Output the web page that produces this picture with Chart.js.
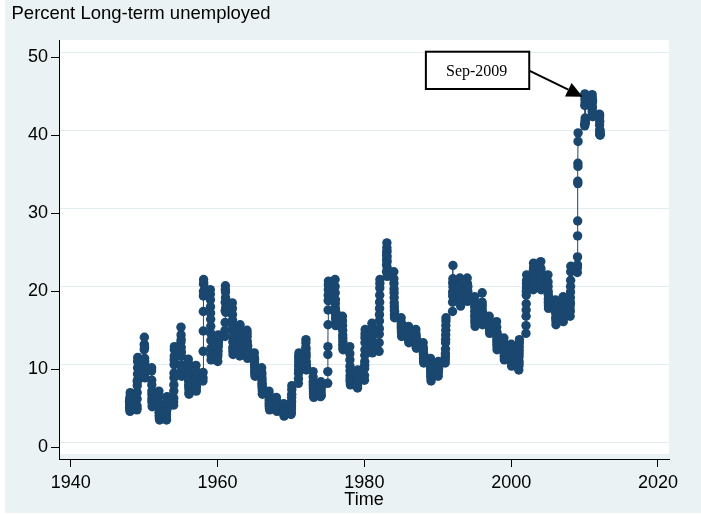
<!DOCTYPE html>
<html><head><meta charset="utf-8">
<script src="https://cdn.jsdelivr.net/npm/chart.js@4"></script>
<style>html,body{margin:0;padding:0;background:#fff}canvas{display:block}</style>
</head><body>
<canvas id="c" width="701" height="514"></canvas>
<script>
// ---------- data (monthly, one row of 12 per year) ----------
const titleText = 'Percent Long-term unemployed';
const xTitle = 'Time';
const xTicks = [1940, 1960, 1980, 2000, 2020];
const yTicks = [0, 10, 20, 30, 40, 50];
const firstYear = 1948;
const v1940s = [ // 1948-1949
  [5.9, 5.1, 5.6, 6.3, 5.5, 4.8, 5.0, 4.6, 5.4, 6.1, 7.0, 6.7],
  [5.0, 4.8, 5.3, 6.2, 7.0, 7.9, 8.4, 8.6, 9.4, 10.2, 11.0, 11.5]
];
const v1950s = [
  [12.5, 13.2, 14.1, 13.0, 12.8, 11.4, 10.5, 11.0, 10.2, 9.5, 8.9, 9.9],
  [9.8, 10.2, 8.6, 8.0, 7.2, 6.8, 6.3, 6.0, 5.8, 5.2, 5.7, 5.4],
  [7.2, 6.5, 5.6, 5.0, 4.5, 4.0, 4.4, 3.8, 4.1, 3.6, 3.5, 4.2],
  [4.0, 4.5, 3.8, 4.2, 3.5, 4.9, 5.4, 5.0, 4.8, 5.6, 6.0, 6.5],
  [5.4, 5.8, 6.3, 7.2, 8.0, 8.9, 9.5, 10.6, 11.2, 11.7, 12.5, 12.9],
  [13.5, 15.4, 14.4, 13.8, 12.8, 11.7, 12.2, 10.6, 9.7, 10.2, 9.1, 9.5],
  [11.3, 10.4, 10.8, 9.6, 9.0, 8.5, 8.0, 8.8, 7.5, 7.0, 7.8, 6.8],
  [7.4, 8.2, 9.0, 8.5, 9.6, 10.5, 9.8, 8.6, 7.6, 8.3, 7.2, 7.8],
  [8.5, 8.9, 9.6, 12.3, 14.9, 17.4, 19.4, 20.0, 20.9, 21.5, 21.1, 19.8],
  [20.2, 19.6, 18.9, 18.0, 17.2, 16.4, 15.5, 14.6, 13.7, 12.7, 11.8, 11.2]
];
const v1960s = [
  [12.4, 11.6, 11.0, 11.9, 12.3, 12.8, 13.2, 13.0, 13.6, 14.0, 14.4, 13.5],
  [14.2, 15.0, 16.0, 17.5, 18.6, 20.2, 20.7, 19.9, 19.2, 18.6, 17.9, 17.3],
  [18.5, 17.8, 17.0, 16.3, 15.6, 14.9, 14.1, 13.5, 12.8, 12.3, 11.9, 12.6],
  [13.0, 12.2, 11.7, 13.6, 14.2, 14.9, 15.7, 15.1, 14.4, 13.8, 13.2, 12.8],
  [15.0, 14.6, 14.2, 13.6, 13.1, 12.6, 12.2, 11.8, 11.4, 12.5, 13.0, 12.3],
  [12.1, 11.5, 11.3, 11.0, 10.6, 10.2, 10.4, 9.8, 9.4, 9.7, 9.1, 9.5],
  [10.2, 9.6, 9.3, 8.9, 8.6, 8.2, 7.8, 8.0, 7.5, 7.2, 6.9, 6.8],
  [7.2, 6.8, 6.1, 5.6, 5.2, 5.8, 5.4, 5.0, 4.8, 5.3, 5.7, 5.5],
  [6.4, 6.0, 5.6, 5.3, 5.0, 5.6, 5.2, 4.8, 4.6, 5.0, 5.8, 5.4],
  [5.6, 5.0, 4.7, 4.4, 4.2, 4.0, 4.3, 4.6, 4.8, 4.5, 4.1, 4.3]
];
const v1970s = [
  [4.2, 4.5, 4.8, 4.4, 5.0, 5.6, 5.3, 5.9, 6.4, 6.8, 7.4, 7.9],
  [8.2, 8.8, 9.5, 9.9, 10.4, 10.8, 11.2, 11.6, 12.1, 11.8, 11.5, 11.0],
  [12.2, 12.8, 13.4, 13.8, 12.6, 12.0, 11.6, 11.0, 10.6, 10.3, 9.9, 10.2],
  [9.7, 9.0, 8.4, 8.0, 7.6, 7.2, 7.5, 6.9, 6.6, 6.4, 6.8, 7.0],
  [7.1, 6.8, 6.5, 7.0, 7.4, 7.8, 8.0, 8.4, 7.6, 7.2, 6.8, 6.6],
  [8.2, 9.7, 11.9, 12.9, 15.7, 17.6, 18.8, 19.5, 20.2, 20.8, 21.3, 21.0],
  [21.5, 20.6, 19.8, 18.4, 17.8, 18.9, 17.2, 16.5, 16.0, 15.6, 16.8, 17.3],
  [16.8, 16.2, 15.6, 15.0, 14.4, 14.0, 13.6, 13.2, 12.8, 12.5, 13.0, 12.6],
  [12.9, 12.0, 11.2, 10.4, 9.8, 9.2, 8.6, 8.9, 8.3, 8.0, 8.4, 8.7],
  [9.0, 8.4, 7.9, 8.6, 9.2, 8.2, 7.6, 8.0, 9.4, 9.9, 8.8, 8.5]
];
const v1980s = [
  [8.6, 9.2, 10.1, 10.5, 11.0, 11.8, 12.5, 13.4, 14.0, 14.6, 15.1, 14.3],
  [14.5, 15.2, 15.9, 15.0, 14.3, 13.8, 13.2, 12.6, 12.1, 12.9, 13.5, 13.0],
  [12.3, 13.4, 14.5, 15.2, 16.2, 17.0, 17.8, 18.6, 19.5, 20.4, 21.0, 21.5],
  [22.5, 23.4, 24.0, 24.6, 25.0, 25.6, 26.2, 25.2, 24.4, 23.8, 23.0, 21.9],
  [22.5, 21.6, 21.0, 20.3, 19.8, 19.2, 18.5, 18.0, 17.6, 17.0, 16.6, 17.4],
  [16.6, 16.0, 15.6, 15.2, 14.8, 15.4, 14.6, 14.2, 15.0, 15.8, 14.9, 14.5],
  [14.8, 15.5, 14.6, 14.2, 13.8, 13.4, 14.0, 14.4, 13.6, 14.9, 14.1, 13.7],
  [15.1, 14.6, 14.0, 13.6, 14.3, 13.2, 12.9, 13.5, 12.7, 13.8, 13.0, 12.8],
  [13.4, 12.8, 12.2, 12.6, 11.9, 11.4, 12.0, 11.2, 10.8, 11.6, 11.0, 11.3],
  [11.4, 10.6, 10.2, 9.8, 9.4, 10.0, 9.1, 8.8, 8.5, 9.6, 9.0, 9.3]
];
const v1990s = [
  [9.6, 9.9, 10.2, 9.4, 9.1, 10.5, 11.0, 10.4, 9.8, 10.1, 10.6, 10.3],
  [10.8, 11.2, 11.6, 12.0, 12.6, 13.4, 13.8, 14.4, 15.0, 15.6, 16.2, 16.6],
  [17.4, 18.6, 19.4, 19.9, 21.0, 21.6, 23.3, 21.2, 20.5, 20.0, 19.8, 20.6],
  [21.7, 20.8, 20.4, 19.6, 19.2, 18.8, 20.0, 20.9, 19.4, 18.6, 18.1, 19.0],
  [21.7, 20.6, 21.0, 20.2, 19.6, 19.0, 18.7, 19.4, 20.0, 20.6, 19.2, 18.9],
  [19.3, 18.6, 18.0, 17.4, 16.8, 16.2, 17.0, 15.9, 15.5, 16.4, 17.6, 16.6],
  [16.2, 17.0, 17.8, 18.6, 19.8, 18.2, 17.4, 16.6, 16.0, 15.7, 16.4, 17.2],
  [16.8, 16.2, 15.8, 15.4, 16.0, 15.2, 14.9, 14.6, 15.5, 16.1, 15.0, 14.8],
  [16.1, 15.4, 14.8, 14.2, 13.8, 13.4, 13.0, 12.5, 14.6, 13.6, 12.8, 13.2],
  [14.0, 13.4, 12.9, 12.4, 12.0, 11.6, 11.2, 12.2, 12.7, 11.8, 11.4, 11.9]
];
const v2000s = [
  [13.2, 12.6, 12.0, 11.6, 11.2, 10.8, 10.4, 11.4, 11.9, 12.3, 11.0, 10.7],
  [11.2, 10.8, 10.4, 9.9, 10.6, 11.0, 11.6, 12.0, 12.4, 12.9, 13.4, 13.8],
  [14.6, 15.6, 16.8, 17.6, 18.4, 19.5, 20.0, 20.4, 21.0, 21.4, 22.1, 20.6],
  [20.2, 21.4, 22.0, 22.8, 23.6, 22.4, 21.8, 22.9, 23.2, 21.6, 20.8, 22.6],
  [23.0, 22.4, 23.8, 21.6, 22.8, 21.0, 20.6, 21.8, 20.2, 22.1, 21.4, 20.8],
  [22.1, 21.2, 20.6, 20.0, 19.6, 19.0, 18.6, 18.2, 17.8, 18.4, 19.2, 18.0],
  [18.9, 18.2, 17.8, 18.5, 17.2, 16.6, 18.0, 17.6, 16.2, 15.7, 17.4, 18.3],
  [17.6, 18.2, 17.0, 16.4, 18.8, 17.8, 19.3, 18.0, 16.9, 16.1, 17.3, 18.5],
  [18.0, 17.6, 16.8, 17.4, 18.6, 19.2, 18.4, 19.9, 20.6, 21.4, 22.5, 23.2],
  [22.4, 23.0, 23.4, 24.4, 27.1, 29.0, 34.1, 33.8, 36.4, 36.0, 39.2, 40.3]
];
const v2010s = [ // 2010-2012
  [41.4, 41.2, 43.8, 45.3, 45.0, 44.6, 44.2, 42.2, 41.8, 41.9, 41.6, 43.9],
  [43.4, 43.6, 45.2, 43.0, 44.8, 44.2, 43.6, 42.6, 44.4, 42.4, 42.8, 42.4],
  [42.7, 42.5, 42.3, 41.3, 42.6, 41.8, 40.7, 40.1, 40.3, 40.6, 40.2, 40.0]
];
const annotationText = 'Sep-2009';

// ---------- build points: time = year + month/100 ----------
const rows = [].concat(v1940s, v1950s, v1960s, v1970s, v1980s, v1990s, v2000s, v2010s);
const points = [];
rows.forEach((row, i) => {
  row.forEach((v, m) => points.push({ x: firstYear + i + (m + 1) / 100, y: v }));
});

// ---------- layout / style ----------
const FONT = '"Liberation Sans", Arial, Helvetica, sans-serif';
const NAVY = '#1a476f';
const BG = '#eaf2f3';
const annotGeom = {
  box: { x0: 1988.38, x1: 2002.46, yTop: 50.70, yBot: 45.92 },
  textAt: { x: 1995.3, y: 48.13 },
  tail: { x: 2002.46, y: 48.27 },
  tip: { x: 2009.74, y: 44.94 }
};

const framePlugin = {
  id: 'frame',
  beforeDraw(chart) {
    const { ctx, chartArea: a, scales } = chart;
    ctx.save();
    ctx.fillStyle = '#ffffff';
    ctx.fillRect(0, 0, chart.width, chart.height);
    ctx.fillStyle = BG;
    ctx.fillRect(5, 0, chart.width - 5, chart.height - 1);
    ctx.fillStyle = '#ffffff';
    ctx.fillRect(a.left, a.top, a.right - a.left, a.bottom - 5 - a.top);
    // horizontal grid lines
    ctx.strokeStyle = '#e3ecee';
    ctx.lineWidth = 1;
    yTicks.forEach(v => {
      const y = Math.round(scales.y.getPixelForValue(v) - 5.3) + 0.5;
      ctx.beginPath();
      ctx.moveTo(a.left, y);
      ctx.lineTo(a.right, y);
      ctx.stroke();
    });
    ctx.restore();
  },
  afterDraw(chart) {
    const ctx = chart.ctx;
    ctx.save();
    ctx.fillStyle = '#000';
    ctx.font = '18.5px ' + FONT;
    ctx.textBaseline = 'alphabetic';
    ctx.textAlign = 'left';
    ctx.fillText(titleText, 11.5, 18.5);
    ctx.restore();
  }
};

const annotPlugin = {
  id: 'annot',
  afterDatasetsDraw(chart) {
    const { ctx, scales: { x, y } } = chart;
    const g = annotGeom;
    const bx0 = x.getPixelForValue(g.box.x0), bx1 = x.getPixelForValue(g.box.x1);
    const by0 = y.getPixelForValue(g.box.yTop), by1 = y.getPixelForValue(g.box.yBot);
    ctx.save();
    ctx.fillStyle = '#fff';
    ctx.fillRect(bx0, by0, bx1 - bx0, by1 - by0);
    ctx.strokeStyle = '#000';
    ctx.lineWidth = 2;
    ctx.strokeRect(bx0, by0, bx1 - bx0, by1 - by0);
    ctx.fillStyle = '#000';
    ctx.font = '16px "Liberation Serif", "Times New Roman", serif';
    ctx.textAlign = 'center';
    ctx.textBaseline = 'middle';
    ctx.fillText(annotationText, x.getPixelForValue(g.textAt.x), y.getPixelForValue(g.textAt.y));
    // arrow
    const tx = x.getPixelForValue(g.tail.x), ty = y.getPixelForValue(g.tail.y);
    const px = x.getPixelForValue(g.tip.x), py = y.getPixelForValue(g.tip.y);
    const dx = px - tx, dy = py - ty, len = Math.hypot(dx, dy);
    const ux = dx / len, uy = dy / len;
    const hl = 16, hw = 7.5;
    const bxp = px - ux * hl, byp = py - uy * hl;
    ctx.beginPath();
    ctx.moveTo(tx, ty);
    ctx.lineTo(bxp, byp);
    ctx.stroke();
    ctx.beginPath();
    ctx.moveTo(px, py);
    ctx.lineTo(bxp - uy * hw, byp + ux * hw);
    ctx.lineTo(bxp + uy * hw, byp - ux * hw);
    ctx.closePath();
    ctx.fill();
    ctx.restore();
  }
};

new Chart(document.getElementById('c'), {
  type: 'line',
  data: {
    datasets: [{
      data: points,
      borderColor: NAVY,
      borderWidth: 1,
      backgroundColor: NAVY,
      pointBackgroundColor: NAVY,
      pointBorderColor: NAVY,
      pointBorderWidth: 0,
      pointRadius: 4.7,
      tension: 0,
      fill: false
    }]
  },
  options: {
    responsive: false,
    devicePixelRatio: 1,
    animation: false,
    events: [],
    layout: { padding: { top: 40, right: 32, bottom: 0, left: 0 } },
    plugins: { legend: { display: false }, tooltip: { enabled: false }, title: { display: false } },
    scales: {
      x: {
        type: 'linear',
        min: 1938.4,
        max: 2021.5,
        afterBuildTicks: s => { s.ticks = xTicks.map(v => ({ value: v })); },
        afterFit: s => { s.height = 55; },
        grid: { drawOnChartArea: false, drawTicks: true, tickLength: 8, tickColor: '#000', tickWidth: 1 },
        border: { display: true, color: '#000', width: 1 },
        ticks: { color: '#000', font: { family: FONT, size: 18 }, padding: 5, maxRotation: 0, callback: v => String(v) },
        title: { display: true, text: xTitle, color: '#000', font: { family: FONT, size: 18 }, padding: { top: 0, bottom: 3 } }
      },
      y: {
        type: 'linear',
        min: -1.5,
        max: 52.2,
        afterBuildTicks: s => { s.ticks = yTicks.map(v => ({ value: v })); },
        afterFit: s => { s.width = 59; },
        grid: { drawOnChartArea: false, drawTicks: true, tickLength: 8, tickColor: '#000', tickWidth: 1 },
        border: { display: true, color: '#000', width: 1 },
        ticks: { color: '#000', font: { family: FONT, size: 18 }, padding: 3, callback: v => String(v) }
      }
    }
  },
  plugins: [framePlugin, annotPlugin]
});
</script>
</body></html>
